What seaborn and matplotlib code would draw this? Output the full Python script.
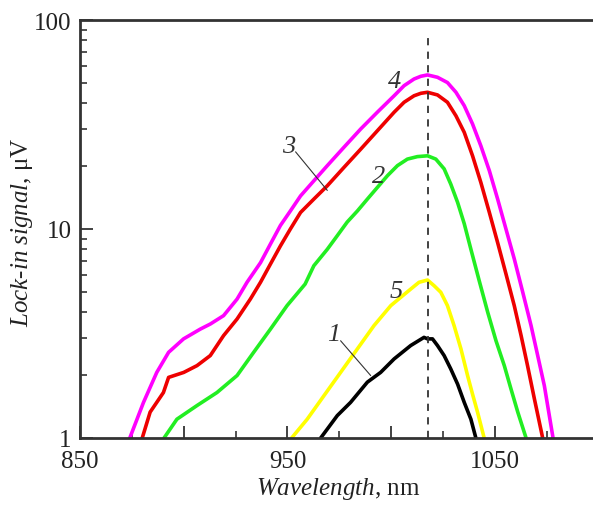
import numpy as np
import pandas as pd
import matplotlib
matplotlib.use("Agg")
import matplotlib.pyplot as plt
from matplotlib.ticker import MultipleLocator, FuncFormatter, LogLocator, NullFormatter
import seaborn as sns

# ---- data ----
wl_1 = [966, 974, 980.4, 988.5, 994.9, 1001.4, 1009.4, 1015.8, 1017.5, 1019.9, 1022.3,
        1025.5, 1028.7, 1032, 1035.2, 1038.4, 1040.8]
sig_1 = [1.0, 1.28, 1.48, 1.85, 2.06, 2.39, 2.77, 3.03, 2.98, 2.98, 2.77,
         2.48, 2.14, 1.81, 1.48, 1.23, 1.0]

wl_2 = [890.5, 896.7, 906.4, 916, 925.7, 933.7, 941.8, 949.8, 958.5, 962.7, 969.2, 974,
        978.8, 983.7, 988.5, 993.3, 998.2, 1003, 1007.8, 1012.6, 1017.5, 1021.5, 1025.5,
        1028.7, 1032, 1035.2, 1038.4, 1042.4, 1046.5, 1050.5, 1054.5, 1057.7, 1061, 1065]
sig_2 = [1.0, 1.23, 1.43, 1.65, 1.99, 2.57, 3.32, 4.3, 5.45, 6.67, 8.0, 9.29,
         10.8, 12.2, 13.9, 15.8, 18.0, 20.1, 21.6, 22.2, 22.4, 21.6, 19.4,
         16.4, 13.4, 10.6, 8.0, 5.66, 4.0, 2.92, 2.22, 1.72, 1.33, 1.0]

wl_3 = [880, 883.8, 890.2, 892.7, 900, 906.4, 912.8, 919.2, 925.7, 932.1, 937, 941.8,
        946.6, 951.4, 956.3, 962.7, 969.2, 977.2, 985.3, 993.3, 1001.4, 1006.2, 1011,
        1014.3, 1017.5, 1022.3, 1027.1, 1031.2, 1035.2, 1039.2, 1043.2, 1047.3, 1051.3,
        1055.3, 1059.3, 1062.6, 1065.7, 1069, 1073]
sig_3 = [1.0, 1.33, 1.65, 1.95, 2.06, 2.22, 2.48, 3.09, 3.71, 4.62, 5.56, 6.8,
         8.3, 10.0, 12.0, 13.9, 16.1, 19.7, 24.1, 29.5, 36.2, 40.4, 43.4,
         44.6, 45.1, 43.8, 40.4, 34.8, 29.0, 22.4, 16.7, 12.0, 8.6,
         6.1, 4.3, 3.09, 2.22, 1.54, 1.0]

wl_4 = [874, 880.6, 887, 892.7, 899.9, 908, 912.8, 919.2, 925.7, 930.5, 937, 941.8,
        946.6, 951.4, 956.3, 962.7, 969.2, 977.2, 985.3, 993.3, 1001.4, 1006.2, 1011,
        1014.3, 1017.5, 1022.3, 1027.1, 1031.2, 1035.2, 1039.2, 1043.2, 1047.3, 1051.3,
        1055.3, 1059.3, 1063.4, 1067.4, 1070.6, 1073.8, 1078]
sig_4 = [1.0, 1.48, 2.06, 2.57, 2.98, 3.32, 3.51, 3.85, 4.62, 5.56, 6.9, 8.48,
         10.4, 12.2, 14.4, 17.0, 20.1, 24.6, 30.1, 36.2, 43.4, 48.5, 52.2,
         53.8, 54.6, 53.2, 50.2, 45.1, 38.9, 31.8, 25.0, 19.0, 13.9,
         10.0, 7.2, 4.98, 3.45, 2.48, 1.78, 1.0]

wl_5 = [952, 959.5, 967.5, 975.6, 983.7, 991.7, 999.8, 1009.4, 1013.4, 1017.5, 1020.7,
        1023.9, 1027.1, 1030.3, 1033.6, 1036.8, 1039.2, 1041.6, 1044.8]
sig_5 = [1.0, 1.23, 1.59, 2.06, 2.67, 3.45, 4.3, 5.16, 5.56, 5.7, 5.35,
         4.98, 4.3, 3.45, 2.67, 1.99, 1.62, 1.33, 1.0]

curve_names = ["1", "2", "3", "4", "5"]
curve_colors = ["#000000", "#22EE22", "#EE0000", "#FF00FF", "#FFFF00"]
peak_wl = 1017.5

x_ticks_labeled = [850, 950, 1050]

frames = []
for name, wl, sig in zip(curve_names, [wl_1, wl_2, wl_3, wl_4, wl_5],
                         [sig_1, sig_2, sig_3, sig_4, sig_5]):
    frames.append(pd.DataFrame({"wl": wl, "sig": sig, "curve": name}))
df = pd.concat(frames, ignore_index=True)

# ---- style ----
sns.set_style("ticks")
plt.rcParams["font.family"] = ["Liberation Serif", "DejaVu Serif"]
plt.rcParams["mathtext.fontset"] = "custom"
plt.rcParams["mathtext.rm"] = "Liberation Serif"
plt.rcParams["mathtext.it"] = "Liberation Serif:italic"

W, H = 593, 506
fig = plt.figure(figsize=(W / 100, H / 100), dpi=100)
ax = fig.add_axes([80 / W, 1 - 439 / H, (W - 80) / W + 0.002, (439 - 21) / H])

draw_order = ["5", "1", "2", "4", "3"]
palette = dict(zip(curve_names, curve_colors))
for name in draw_order:
    sub = df[df["curve"] == name]
    sns.lineplot(data=sub, x="wl", y="sig", color=palette[name], lw=2.6,
                 ax=ax, sort=False, estimator=None, legend=False)

ax.set_yscale("log")
ax.set_xlim(850, 850 + (W - 80) / 2.07)
ax.set_ylim(1, 100)

# dashed peak line
ax.plot([peak_wl, peak_wl], [1, 83], ls=(0, (4, 3.5)), color="#333333", lw=1.3)

# ticks
ax.xaxis.set_major_locator(MultipleLocator(50))
ax.xaxis.set_minor_locator(MultipleLocator(25))
ax.xaxis.set_major_formatter(FuncFormatter(
    lambda v, p: f"{int(round(v))}" if int(round(v)) in x_ticks_labeled else ""))
ax.yaxis.set_major_locator(LogLocator(base=10, numticks=5))
ax.yaxis.set_minor_locator(LogLocator(base=10, subs=np.arange(2, 10), numticks=20))
ax.yaxis.set_minor_formatter(NullFormatter())
ax.yaxis.set_major_formatter(FuncFormatter(lambda v, p: f"{v:g}"))

ax.tick_params(which="major", direction="in", length=9, width=1.3, colors="#333333",
               labelsize=18, labelcolor="#222222", pad=6)
ax.tick_params(axis="x", which="major", pad=9)
ax.tick_params(which="minor", direction="in", length=5, width=1.2, colors="#333333")
for s in ["left", "bottom", "top"]:
    ax.spines[s].set_linewidth(2.0)
    ax.spines[s].set_color("#333333")
ax.spines["right"].set_visible(False)
ax.set_xlabel("")
ax.set_ylabel("")

fig.text(338 / W, 1 - 489 / H, r"$\mathit{Wavelength}$, nm", ha="center", va="center",
         fontsize=18, color="#222222")
fig.text(22 / W, 1 - 232 / H,
         r"$\mathit{Lock}$-$\mathit{in\ signal}$, μV", ha="center", va="center",
         rotation=90, fontsize=18, color="#222222")

# curve labels
lab_kw = dict(fontsize=19, style="italic", color="#333333", ha="center", va="center")
ax.text(1001.4, 51.2, "4", **lab_kw)
ax.text(950.6, 25.0, "3", **lab_kw)
ax.text(994.1, 18.0, "2", **lab_kw)
ax.text(1002.2, 5.07, "5", **lab_kw)
ax.text(972.4, 3.15, "1", **lab_kw)
ax.plot([953.9, 969.2], [23.4, 15.3], color="#333333", lw=0.8)
ax.plot([975.6, 990.1], [2.92, 1.99], color="#333333", lw=0.8)

fig.savefig("out.png", dpi=100)
